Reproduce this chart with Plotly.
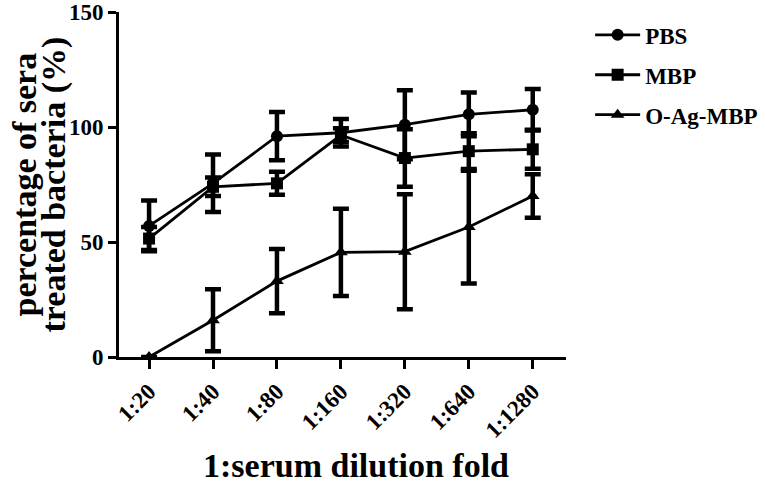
import plotly.graph_objects as go

# dilution categories
dilutions = ["1:20", "1:40", "1:80", "1:160", "1:320", "1:640", "1:1280"]

# mean percentage values
pbs = [57, 75.5, 96, 97.5, 101, 105.5, 107.5]
mbp = [51.5, 74, 75.5, 96.5, 86.5, 89.5, 90.3]
oag_mbp = [0, 16, 33, 45.5, 45.8, 56.5, 70]

# error bar half-widths (SD)
pbs_err = [11, 12.5, 10.5, 6, 15, 9.5, 9]
mbp_err = [5, 4, 5, 3, 12.5, 7.8, 8.5]
oag_err = [0, 13.5, 14, 19, 25, 24.5, 9.5]

# y title, one annotation per line
ytitle_lines = ["percentage of sera", "treated bacteria (%)"]
xtitle = "1:serum dilution fold"

font_family = "Liberation Serif"

fig = go.Figure()

series = [
    ("PBS", pbs, pbs_err, "circle"),
    ("MBP", mbp, mbp_err, "square"),
    ("O-Ag-MBP", oag_mbp, oag_err, "triangle-up"),
]

for name, vals, errs, sym in series:
    fig.add_trace(go.Scatter(
        x=dilutions, y=vals, name=name, mode="lines+markers",
        legendgroup=name,
        line=dict(color="black", width=2.8),
        marker=dict(symbol=sym, size=12, color="black"),
        error_y=dict(type="data", array=errs, visible=True,
                     color="black", thickness=4.5, width=8),
    ))

fig.update_layout(
    width=766, height=485,
    margin=dict(l=119, r=200, t=12, b=128, autoexpand=False),
    plot_bgcolor="white", paper_bgcolor="white",
    font=dict(family=font_family, color="black", size=22),
    showlegend=True,
    legend=dict(x=1.054, y=0.996, xanchor="left", yanchor="top",
                font=dict(size=23, family=font_family, weight="bold"),
                tracegroupgap=7, itemwidth=45, bgcolor="rgba(0,0,0,0)"),
)

# two-line rotated y title
for i, line in enumerate(ytitle_lines):
    fig.add_annotation(
        text=line, xref="paper", yref="paper", x=0, y=0.5,
        xanchor="center", yanchor="middle", textangle=-90,
        xshift=[-95, -66][i], yshift=0, showarrow=False,
        font=dict(size=34, family=font_family, weight="bold", color="black"),
    )

# x title
fig.add_annotation(
    text=xtitle, xref="paper", yref="paper", x=0.53, y=0,
    xanchor="center", yanchor="middle", yshift=-108, showarrow=False,
    font=dict(size=34, family=font_family, weight="bold", color="black"),
)

fig.update_xaxes(
    range=[-0.47, 6.52], automargin=False,
    showline=True, linecolor="black", linewidth=3,
    ticks="outside", ticklen=9, tickwidth=2.5, tickcolor="black",
    tickangle=-45, showgrid=False, zeroline=False,
    tickfont=dict(size=23, family=font_family, weight="bold"),
)

fig.update_yaxes(
    range=[0, 150], tickvals=[0, 50, 100, 150], automargin=False,
    ticklabeloverflow="allow",
    showline=True, linecolor="black", linewidth=3,
    ticks="outside", ticklen=8, tickwidth=2.5, tickcolor="black",
    showgrid=False, zeroline=False,
    tickfont=dict(size=23, family=font_family, weight="bold"),
)

# drop the default page margin so the figure sits at the top-left corner
fig.write_html("out.html", config={"displayModeBar": False},
               post_script="document.body.style.margin='0';")
